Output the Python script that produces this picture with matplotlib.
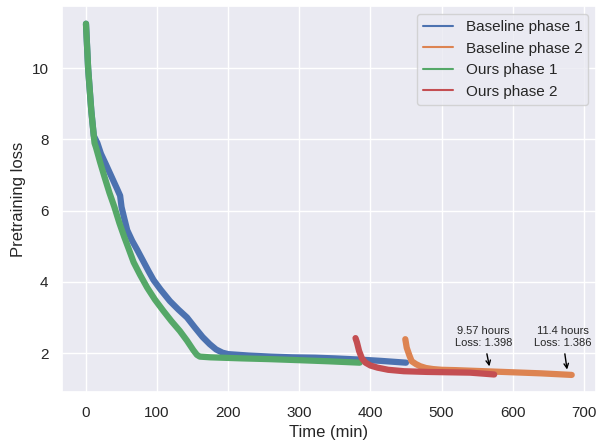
import numpy as np
import matplotlib
matplotlib.use("Agg")
import matplotlib.pyplot as plt
import seaborn as sns

# Кривые потерь (время в минутах)
base1_t = [0, 3, 7.5, 11, 16, 21, 28, 36, 44, 48, 50, 53, 58, 65, 72, 80, 88, 95, 105, 118, 130,
           142, 153, 164, 174, 183, 192, 200, 229, 260, 290, 322, 350, 382, 415, 450]
base1_loss = [11.25, 10.0, 8.8, 8.1, 7.9, 7.6, 7.3, 6.95, 6.6, 6.42, 6.1, 5.85, 5.45, 5.15, 4.9,
              4.6, 4.3, 4.05, 3.78, 3.46, 3.22, 3.0, 2.72, 2.45, 2.25, 2.1, 2.01, 1.97, 1.93, 1.9,
              1.88, 1.87, 1.85, 1.82, 1.78, 1.73]

base2_t = [449, 451, 455, 458, 464, 470, 478, 488, 500, 520, 560, 600, 640, 683]
base2_loss = [2.39, 2.15, 1.92, 1.77, 1.69, 1.63, 1.58, 1.55, 1.53, 1.52, 1.49, 1.46, 1.43, 1.386]

ours1_t = [0, 3, 7.5, 10, 12, 14, 20, 26, 33, 40, 47, 54, 60, 67, 76, 86, 97, 109, 120, 132, 142,
           151, 156, 160, 175, 190, 220, 257, 300, 340, 385]
ours1_loss = [11.25, 10.0, 8.8, 8.3, 7.9, 7.78, 7.35, 6.95, 6.5, 6.1, 5.65, 5.25, 4.93, 4.55, 4.2,
              3.84, 3.5, 3.18, 2.9, 2.62, 2.35, 2.08, 1.95, 1.9, 1.88, 1.87, 1.85, 1.83, 1.8, 1.77,
              1.73]

ours2_t = [379, 381, 384, 388, 393, 400, 410, 425, 447, 480, 510, 540, 560, 574]
ours2_loss = [2.42, 2.3, 2.06, 1.85, 1.73, 1.65, 1.59, 1.53, 1.49, 1.47, 1.46, 1.45, 1.42, 1.398]

labels = ["Baseline phase 1", "Baseline phase 2", "Ours phase 1", "Ours phase 2"]

sns.set_theme(style="darkgrid")
plt.rcParams['font.family'] = ['Liberation Sans', 'DejaVu Sans']
colors = sns.color_palette("deep")

fig, ax = plt.subplots(figsize=(5.99, 4.4), dpi=100)
fig.subplots_adjust(left=0.103, right=0.995, bottom=0.108, top=0.986)

ax.plot(base1_t, base1_loss, color=colors[0], lw=4.5, label=labels[0])
ax.plot(base2_t, base2_loss, color=colors[1], lw=4.5, label=labels[1])
ax.plot(ours1_t, ours1_loss, color=colors[2], lw=4.5, label=labels[2])
ax.plot(ours2_t, ours2_loss, color=colors[3], lw=4.5, label=labels[3])

ax.annotate("9.57 hours\nLoss: 1.398", xy=(568, 1.55), xytext=(559, 2.45),
            ha="center", va="center", fontsize=8,
            arrowprops=dict(arrowstyle="->", color="black", lw=1))
ax.annotate("11.4 hours\nLoss: 1.386", xy=(677, 1.46), xytext=(670, 2.45),
            ha="center", va="center", fontsize=8,
            arrowprops=dict(arrowstyle="->", color="black", lw=1))

ax.set_xlabel("Time (min)", fontsize=12)
ax.set_ylabel("Pretraining loss", fontsize=12)
ax.set_yticks([2, 4, 6, 8, 10])
ax.tick_params(labelsize=11)

leg = ax.legend(loc="upper right", fontsize=11)
for h in leg.get_lines():
    h.set_linewidth(1.5)

fig.savefig("out.png", dpi=100)
